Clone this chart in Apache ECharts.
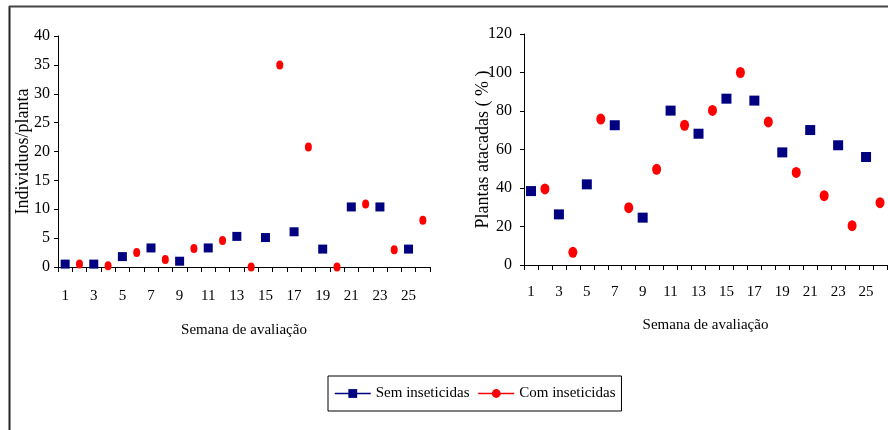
<!DOCTYPE html>
<html>
<head>
<meta charset="utf-8">
<script src="https://cdn.jsdelivr.net/npm/echarts@6/dist/echarts.min.js"></script>
<style>
  html, body { margin: 0; padding: 0; background: #fff; }
  #chart { width: 888px; height: 430px; }
</style>
</head>
<body>
<div id="chart"></div>
<script>
// Weeks of evaluation (1..26)
const weeks = ['1','2','3','4','5','6','7','8','9','10','11','12','13','14','15','16','17','18','19','20','21','22','23','24','25','26'];

// Individuals per plant (left panel); null where no sample that week
const individuosSem = [0.5, null, 0.5, null, 1.8, null, 3.3, null, 1.0, null, 3.3, null, 5.3, null, 5.1, null, 6.1, null, 3.1, null, 10.4, null, 10.4, null, 3.1, null];
const individuosCom = [null, 0.5, null, 0.2, null, 2.5, null, 1.3, null, 3.2, null, 4.6, null, 0.0, null, 35.0, null, 20.8, null, 0.0, null, 10.9, null, 3.0, null, 8.1];

// Attacked plants, % (right panel)
const atacadasSem = [38.4, null, 26.3, null, 41.9, null, 72.6, null, 24.6, null, 80.2, null, 68.2, null, 86.4, null, 85.4, null, 58.5, null, 70.1, null, 62.2, null, 56.1, null];
const atacadasCom = [null, 39.5, null, 6.6, null, 75.8, null, 29.8, null, 49.7, null, 72.6, null, 80.3, null, 100.0, null, 74.3, null, 48.1, null, 36.0, null, 20.4, null, 32.4];

const seriesNames = ['Sem inseticidas', 'Com inseticidas'];
const NAVY = '#000080';
const RED = '#ff0000';
const FONT = 'Liberation Serif';

const chart = echarts.init(document.getElementById('chart'), null, { renderer: 'canvas' });

function xAxisFor(gridIndex, labelMargin, nameGap) {
  return {
    type: 'category',
    gridIndex: gridIndex,
    data: weeks,
    boundaryGap: true,
    axisLine: { lineStyle: { color: '#000', width: 1 } },
    axisTick: { show: true, interval: 0, length: 5, lineStyle: { color: '#000' } },
    axisLabel: { interval: 1, margin: labelMargin, color: '#000', fontFamily: FONT, fontSize: 15 },
    splitLine: { show: false },
    name: 'Semana de avaliação',
    nameLocation: 'middle',
    nameGap: nameGap,
    nameMoveOverlap: false,
    nameTextStyle: { color: '#000', fontFamily: FONT, fontSize: 15 }
  };
}

function yAxisFor(gridIndex, max, interval, name, nameGap, labelMargin, nameSize) {
  return {
    type: 'value',
    gridIndex: gridIndex,
    min: 0,
    max: max,
    interval: interval,
    axisLine: { show: true, lineStyle: { color: '#000', width: 1 } },
    axisTick: { show: true, length: 4, lineStyle: { color: '#000' } },
    axisLabel: { margin: labelMargin, color: '#000', fontFamily: FONT, fontSize: 16 },
    splitLine: { show: false },
    name: name,
    nameLocation: 'middle',
    nameRotate: 90,
    nameGap: nameGap,
    nameMoveOverlap: false,
    nameTextStyle: { color: '#000', fontFamily: FONT, fontSize: nameSize }
  };
}

function markerSeries(name, data, xi, yi, symbol, size, color) {
  return {
    name: name,
    type: 'line',
    xAxisIndex: xi,
    yAxisIndex: yi,
    data: data,
    symbol: symbol,
    symbolSize: size,
    showSymbol: true,
    showAllSymbol: true,
    connectNulls: false,
    itemStyle: { color: color },
    lineStyle: { width: 0, opacity: 0, color: color },
    emphasis: { disabled: true },
    animation: false
  };
}

chart.setOption({
  animation: false,
  backgroundColor: '#fff',
  textStyle: { fontFamily: FONT },
  grid: [
    { left: 58, top: 36, width: 372, height: 231 },
    { left: 524, top: 34, width: 363, height: 231 }
  ],
  xAxis: [
    xAxisFor(0, 22, 56),
    xAxisFor(1, 20, 53)
  ],
  yAxis: [
    yAxisFor(0, 40, 5, 'Individuos/planta', 26, 8, 18),
    yAxisFor(1, 120, 20, 'Plantas atacadas ( % )', 32, 12, 18)
  ],
  legend: {
    left: 328,
    top: 376,
    orient: 'horizontal',
    itemWidth: 36,
    itemHeight: 11,
    itemGap: 8,
    padding: [10, 6, 10, 6],
    borderColor: '#000',
    borderWidth: 1,
    textStyle: { color: '#000', fontFamily: FONT, fontSize: 15 },
    data: [
      { name: seriesNames[0], lineStyle: { width: 1.5, opacity: 1, color: NAVY } },
      { name: seriesNames[1], lineStyle: { width: 1.5, opacity: 1, color: RED } }
    ]
  },
  series: [
    markerSeries(seriesNames[0], individuosSem, 0, 0, 'rect', 9, NAVY),
    markerSeries(seriesNames[1], individuosCom, 0, 0, 'circle', [7, 9], RED),
    markerSeries(seriesNames[0], atacadasSem, 1, 1, 'rect', 10, NAVY),
    markerSeries(seriesNames[1], atacadasCom, 1, 1, 'circle', [9, 11], RED)
  ],
  graphic: [
    // frame: left and top edges
    { type: 'line', shape: { x1: 9.5, y1: 6, x2: 9.5, y2: 430 }, style: { stroke: '#222', lineWidth: 2 } },
    { type: 'line', shape: { x1: 9, y1: 6.5, x2: 888, y2: 6.5 }, style: { stroke: '#444', lineWidth: 2 } }
  ]
});
</script>
</body>
</html>
